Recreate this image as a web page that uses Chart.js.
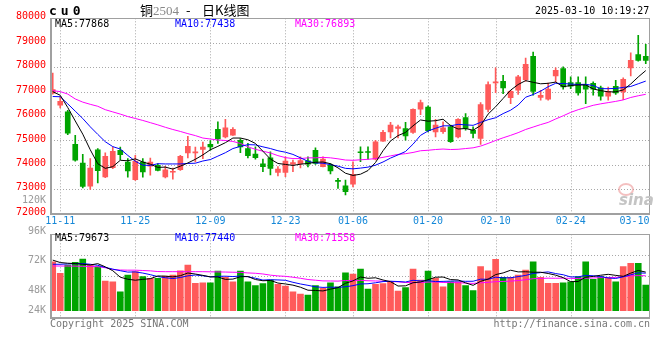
<!DOCTYPE html>
<html>
<head>
<meta charset="utf-8">
<script src="https://cdn.jsdelivr.net/npm/chart.js@4.4.1/dist/chart.umd.min.js"></script>
<style>
html, body { margin: 0; padding: 0; background: #fff; }
#wrap { position: relative; width: 660px; height: 360px; overflow: hidden; font-family: "DejaVu Sans Mono", monospace; }
#wrap canvas { position: absolute; left: 0; }
.t { position: absolute; white-space: nowrap; font-size: 10px; line-height: 10px; z-index: 2; }
</style>
</head>
<body>
<div id="wrap">
  <canvas id="price" width="660" height="224" style="top:0"></canvas>
  <canvas id="volume" width="660" height="136" style="top:224px"></canvas>

  <div class="t" style="left:49px;top:4px;font-size:13px;line-height:13px;font-weight:bold;letter-spacing:4px">cu0</div>
  <div class="t" style="left:140px;top:3px;font-size:13px;line-height:14px;font-family:'Noto Sans CJK SC'">铜<span style="font-family:'Liberation Serif';color:#888">2504</span></div>
  <div class="t" style="left:186px;top:3px;font-size:13px;line-height:14px;font-family:'Noto Sans CJK SC'">-</div>
  <div class="t" style="left:202px;top:3px;font-size:13px;line-height:14px;font-family:'Noto Sans CJK SC'">日K线图</div>
  <div class="t" style="left:535px;top:6px">2025-03-10 10:19:27</div>

  <div class="t" style="left:55px;top:19px;color:#000">MA5:77868</div>
  <div class="t" style="left:175px;top:19px;color:#0000ff">MA10:77438</div>
  <div class="t" style="left:295px;top:19px;color:#ff00ff">MA30:76893</div>

  <div class="t" style="left:55px;top:233px;color:#000">MA5:79673</div>
  <div class="t" style="left:175px;top:233px;color:#0000ff">MA10:77440</div>
  <div class="t" style="left:295px;top:233px;color:#ff00ff">MA30:71558</div>

  <div class="t" style="left:618px;top:183px;width:12px;height:9px;border:2px solid rgba(235,140,140,0.55);border-radius:50%"></div>
  <div class="t" style="left:619px;top:193px;font-family:'DejaVu Sans';font-size:15px;line-height:15px;font-weight:bold;font-style:italic;color:#c4c4c4">sina</div>

  <div class="t" style="left:50px;top:319px;color:#777">Copyright 2025 SINA.COM</div>
  <div class="t" style="right:10px;top:319px;color:#777">http://finance.sina.com.cn</div>
</div>

<script>
// cu0 日K: 2024-11-08 .. 2025-03-10, one entry per trading day
var opens = [76940,76450,76170,74840,74080,73130,74620,73510,73890,74600,
    74120,73400,74120,73950,73980,73510,73700,73810,74490,74490,
    74630,74840,75460,75150,75220,75010,74670,74440,74040,74290,
    73690,73690,74030,74050,74170,74600,73930,73990,73370,73140,
    73210,74530,74530,74240,74970,75350,75490,75490,75330,76280,
    76370,75350,75360,75560,75150,75940,75420,75080,76270,77360,
    77420,76750,77060,77490,78440,76760,76690,77640,77940,77370,
    77370,77290,77340,77150,76810,77220,76990,77970,78520,78440];
var highs = [77760,76800,76230,75210,74430,74260,74670,74500,74730,74730,
    74260,74390,74260,74280,74060,73940,73870,74390,75170,74730,
    74930,75000,75760,75870,75530,75080,74880,74740,74240,74540,
    73930,74330,74200,74330,74330,74700,74330,74060,73450,73380,
    74130,74740,74740,75010,75420,75740,75630,75740,76300,76650,
    76420,75870,75760,75630,75900,76100,75560,76550,77400,77970,
    77670,77050,77670,78370,78620,77050,77350,77970,78010,77600,
    77600,77600,77400,77230,77190,77460,77560,78590,79300,78930];
var lows = [76900,76330,75240,74150,73060,73000,73260,73480,73850,74220,
    73500,73370,73500,73580,73750,73470,73420,73780,74290,74120,
    74260,74600,74880,75110,75210,74500,74290,74240,73720,73590,
    73550,73520,73720,73880,73920,74020,73920,73630,73040,72770,
    73100,74130,74240,74200,74960,75110,75110,75010,75290,76060,
    75350,75150,75290,74920,75110,75420,75110,74840,76170,76960,
    76920,76510,76890,77420,76850,76650,76650,77390,77100,77120,
    76850,76510,76850,76650,76650,76890,76670,77640,78250,78140];
var closes = [77080,76600,75300,74190,73120,73870,73760,74350,74560,74420,
    73750,74150,73710,74120,73780,73800,73720,74350,74760,74510,
    74730,74740,75060,75520,75460,74740,74380,74300,73930,73860,
    73830,74160,74100,74180,74030,74060,74240,73750,73330,72910,
    73620,74500,74510,74950,75330,75630,75560,75190,76270,76550,
    75400,75630,75520,74950,75870,75490,75290,76470,77290,77380,
    77150,77010,77600,78120,77010,76850,77100,77870,77190,77220,
    76950,77100,77100,76810,77010,76950,77500,78280,78280,78280];

var ma5 = [77000,76850,76350,75800,75260,74620,74050,73860,73930,74190,
    74170,74250,74120,74030,73900,73910,73830,73950,74080,74230,
    74410,74620,74760,74910,75100,75100,75030,74880,74560,74240,
    74060,74020,73980,74030,74060,74110,74120,74050,73880,73660,
    73570,73620,73770,74100,74580,74980,75200,75330,75600,75840,
    75790,75810,75870,75610,75470,75490,75420,75610,76080,76380,
    76720,77060,77290,77450,77380,77320,77340,77390,77200,77250,
    77270,77270,77110,77040,76990,76990,77070,77310,77600,77860];
var ma10 = [76800,76790,76500,76200,75900,75560,75250,74950,74750,74650,
    74390,74150,73990,73980,74050,74040,74040,74040,74060,74070,
    74160,74220,74360,74500,74670,74760,74830,74820,74740,74670,
    74580,74520,74430,74290,74150,74080,74070,74010,73950,73860,
    73840,73870,73910,73990,74120,74280,74410,74550,74850,75210,
    75390,75500,75600,75600,75660,75640,75620,75740,75850,75930,
    76100,76240,76450,76770,76880,77020,77200,77340,77330,77310,
    77290,77300,77250,77120,77120,77130,77170,77210,77320,77430];
var ma30 = [77040,77000,76900,76700,76570,76480,76400,76260,76170,76080,
    75980,75900,75820,75730,75640,75540,75450,75370,75280,75200,
    75100,75060,75020,75000,74960,74880,74740,74640,74560,74490,
    74380,74300,74260,74260,74290,74290,74310,74290,74250,74200,
    74190,74210,74230,74260,74310,74370,74430,74460,74510,74580,
    74600,74630,74650,74630,74640,74670,74700,74770,74880,75000,
    75110,75210,75320,75450,75550,75650,75740,75880,76010,76150,
    76260,76350,76440,76500,76550,76600,76660,76760,76830,76890];

var volumes = [94700,78000,89900,93800,98600,89900,87500,66900,65800,51400,
    75500,80300,73100,70700,70700,74100,75500,81700,89900,63500,
    64400,64400,81300,72200,65800,81300,65800,60100,63000,68300,
    62100,59600,51400,48100,46600,60100,56300,64400,58600,78800,
    77000,84200,55300,62100,63000,65000,52400,57200,84200,68300,
    81300,70700,58600,65800,65800,60100,52900,87500,81700,98200,
    72200,72200,75500,82700,94700,72200,63500,63500,64400,65800,
    73100,94700,69300,73100,72200,65800,87500,92400,92400,61100];
var volMa5 = [97000,93500,92500,92000,91000,90000,91900,87300,81700,72300,
    69400,68000,69200,70200,74100,73800,72800,74500,78400,76900,
    75000,72800,72700,69200,69600,73000,73300,69000,67200,67700,
    63900,62600,60900,57900,53600,53200,52500,55100,57200,63600,
    67000,72600,70800,71500,68300,65900,59600,59900,64400,65400,
    68700,72300,72600,68900,68400,64200,60600,66400,69600,76100,
    78500,82400,80000,80200,79500,79500,77700,75300,71700,65900,
    66100,72300,73500,75200,76500,75000,73600,78200,82100,79700];
var volMa10 = [91000,91000,91500,92000,92000,91000,89500,86500,84000,81700,
    79700,80000,78300,76000,73200,71600,70400,71900,74300,75500,
    74400,72800,73600,73800,73300,74000,73000,70900,68200,68700,
    68400,67900,65000,62600,60600,58500,57600,58000,57600,58600,
    60100,62600,62900,64300,66000,66500,66100,65400,67900,66900,
    67300,66000,66300,66700,66900,66400,66500,69500,69300,72300,
    71400,71500,73200,74900,77800,79000,80000,77600,75900,72700,
    72800,75000,74400,73400,71200,70500,72900,75800,78600,78200];
var volMa30 = [88500,88500,88500,88300,88000,87800,87500,86000,83500,82700,
    82500,82500,82000,81500,80500,80300,80300,80300,80300,80300,
    80300,80100,80000,79800,79500,79300,78500,78000,77000,75300,
    74200,73600,72300,70800,69000,68000,67000,66900,66700,67600,
    67600,67800,67200,66900,66600,66300,65600,64700,64500,64700,
    65300,65500,64700,64500,64500,63800,63400,64300,64900,65900,
    66200,66700,67500,68600,70200,70600,70900,70800,71000,70600,
    70500,70800,71300,71700,72000,72000,73200,74300,74600,74400];

var dateTicks = [1, 11, 21, 31, 40, 50, 59, 69, 79];
var dateLabels = ["11-11", "11-25", "12-09", "12-23", "01-06", "01-20", "02-10", "02-24", "03-10"];
var priceTicks = [72000, 73000, 74000, 75000, 76000, 77000, 78000, 79000, 80000];
var volTickLabels = ["96K", "72K", "48K", "24K"];

// layout only
var volLabelY = [7, 36.7, 66.7, 86.7];
var upColor = "#ff5a5a";
var downColor = "#00a400";
var gridColor = "#a8a8a8";
var frameColor = "#a0a0a0";
var monoFont = '10px "DejaVu Sans Mono"';

var idx = closes.map((c, i) => i);
var candleColor = idx.map(i => closes[i] >= opens[i] ? upColor : downColor);

function pts(arr) {
    return arr.map((v, i) => ({ x: i, y: v }));
}

function dotLine(ctx, x1, y1, x2, y2) {
    ctx.beginPath();
    ctx.moveTo(x1, y1);
    ctx.lineTo(x2, y2);
    ctx.stroke();
}

function drawGrid(chart, hLines) {
    var ctx = chart.ctx, a = chart.chartArea, xs = chart.scales.x;
    ctx.save();
    ctx.strokeStyle = gridColor;
    ctx.lineWidth = 1;
    ctx.setLineDash([1, 2]);
    hLines.forEach(py => {
        py = Math.round(py) + 0.5;
        dotLine(ctx, a.left, py, a.right, py);
    });
    dateTicks.forEach(i => {
        var px = Math.round(xs.getPixelForValue(i)) + 0.5;
        if (px > a.right - 6) return;
        dotLine(ctx, px, a.top, px, a.bottom);
    });
    ctx.restore();
}

function drawFrame(chart) {
    var ctx = chart.ctx, a = chart.chartArea;
    var l = Math.round(a.left), t = Math.round(a.top), r = Math.round(a.right), b = Math.round(a.bottom);
    ctx.save();
    ctx.fillStyle = frameColor;
    ctx.fillRect(l - 1, t, 2, b - t + 1);
    ctx.fillRect(l - 1, b - 1, r - l + 1, 2);
    ctx.fillRect(l - 1, t, r - l + 1, 1);
    ctx.fillRect(r - 1, t, 1, b - t + 1);
    ctx.restore();
}

var priceDeco = {
    id: "priceDeco",
    beforeDatasetsDraw(chart) {
        var ys = chart.scales.y;
        var lines = priceTicks.filter(v => v > ys.min && v < ys.max).map(v => ys.getPixelForValue(v));
        drawGrid(chart, lines);
    },
    afterDraw(chart) {
        var ctx = chart.ctx, a = chart.chartArea, xs = chart.scales.x, ys = chart.scales.y;
        drawFrame(chart);
        ctx.save();
        ctx.font = monoFont;
        ctx.textBaseline = "middle";
        ctx.textAlign = "right";
        ctx.fillStyle = "#ff0000";
        priceTicks.forEach(v => ctx.fillText(String(v), 46, ys.getPixelForValue(v) - 1.5));
        ctx.fillStyle = "#9a9a9a";
        ctx.fillText("120K", 46, 200.5);
        ctx.fillStyle = "#1588d8";
        dateTicks.forEach((i, k) => {
            var px = xs.getPixelForValue(i);
            if (px + 15 > a.right) {
                ctx.textAlign = "right";
                px = a.right;
            } else {
                ctx.textAlign = "center";
            }
            ctx.fillText(dateLabels[k], px, 221.5);
        });
        ctx.restore();
    }
};

var volumeDeco = {
    id: "volumeDeco",
    beforeDatasetsDraw(chart) {
        var a = chart.chartArea, h = a.bottom - a.top;
        drawGrid(chart, [a.top + h / 4, a.top + h / 2, a.top + h * 3 / 4]);
    },
    afterDraw(chart) {
        var ctx = chart.ctx;
        drawFrame(chart);
        ctx.save();
        ctx.font = monoFont;
        ctx.textBaseline = "middle";
        ctx.textAlign = "right";
        ctx.fillStyle = "#9a9a9a";
        volTickLabels.forEach((s, k) => ctx.fillText(s, 46, volLabelY[k]));
        ctx.restore();
    }
};

function maLine(arr, color) {
    return {
        type: "line",
        data: pts(arr),
        borderColor: color,
        borderWidth: 1,
        pointRadius: 0,
        tension: 0,
        order: 0
    };
}

var commonX = { type: "linear", min: -0.23, max: 79.5, offset: false, display: false };

new Chart(document.getElementById("price"), {
    type: "bar",
    data: {
        datasets: [
            maLine(ma5, "#000000"),
            maLine(ma10, "#0000ff"),
            maLine(ma30, "#ff00ff"),
            {
                type: "bar",
                data: idx.map(i => ({ x: i, y: [opens[i], closes[i]] })),
                backgroundColor: candleColor,
                borderWidth: 0,
                barThickness: 5,
                minBarLength: 1,
                grouped: false,
                order: 1
            },
            {
                type: "bar",
                data: idx.map(i => ({ x: i, y: [lows[i], highs[i]] })),
                backgroundColor: candleColor,
                borderWidth: 0,
                barThickness: 1,
                minBarLength: 1,
                grouped: false,
                order: 2
            }
        ]
    },
    options: {
        responsive: false,
        animation: false,
        layout: { padding: { left: 51, right: 10.5, top: 18.3, bottom: 10.2 } },
        plugins: { legend: { display: false }, tooltip: { enabled: false } },
        scales: {
            x: commonX,
            y: { type: "linear", min: 72000, max: 80000, display: false }
        }
    },
    plugins: [priceDeco]
});

new Chart(document.getElementById("volume"), {
    type: "bar",
    data: {
        datasets: [
            maLine(volMa5, "#000000"),
            maLine(volMa10, "#0000ff"),
            maLine(volMa30, "#ff00ff"),
            {
                type: "bar",
                data: pts(volumes),
                backgroundColor: candleColor,
                borderWidth: 0,
                barThickness: 6,
                base: 24000,
                grouped: false,
                order: 1
            }
        ]
    },
    options: {
        responsive: false,
        animation: false,
        layout: { padding: { left: 51, right: 10.5, top: 10.3, bottom: 42 } },
        plugins: { legend: { display: false }, tooltip: { enabled: false } },
        scales: {
            x: commonX,
            y: { type: "linear", min: 13470, max: 134250, display: false }
        }
    },
    plugins: [volumeDeco]
});
</script>
</body>
</html>
